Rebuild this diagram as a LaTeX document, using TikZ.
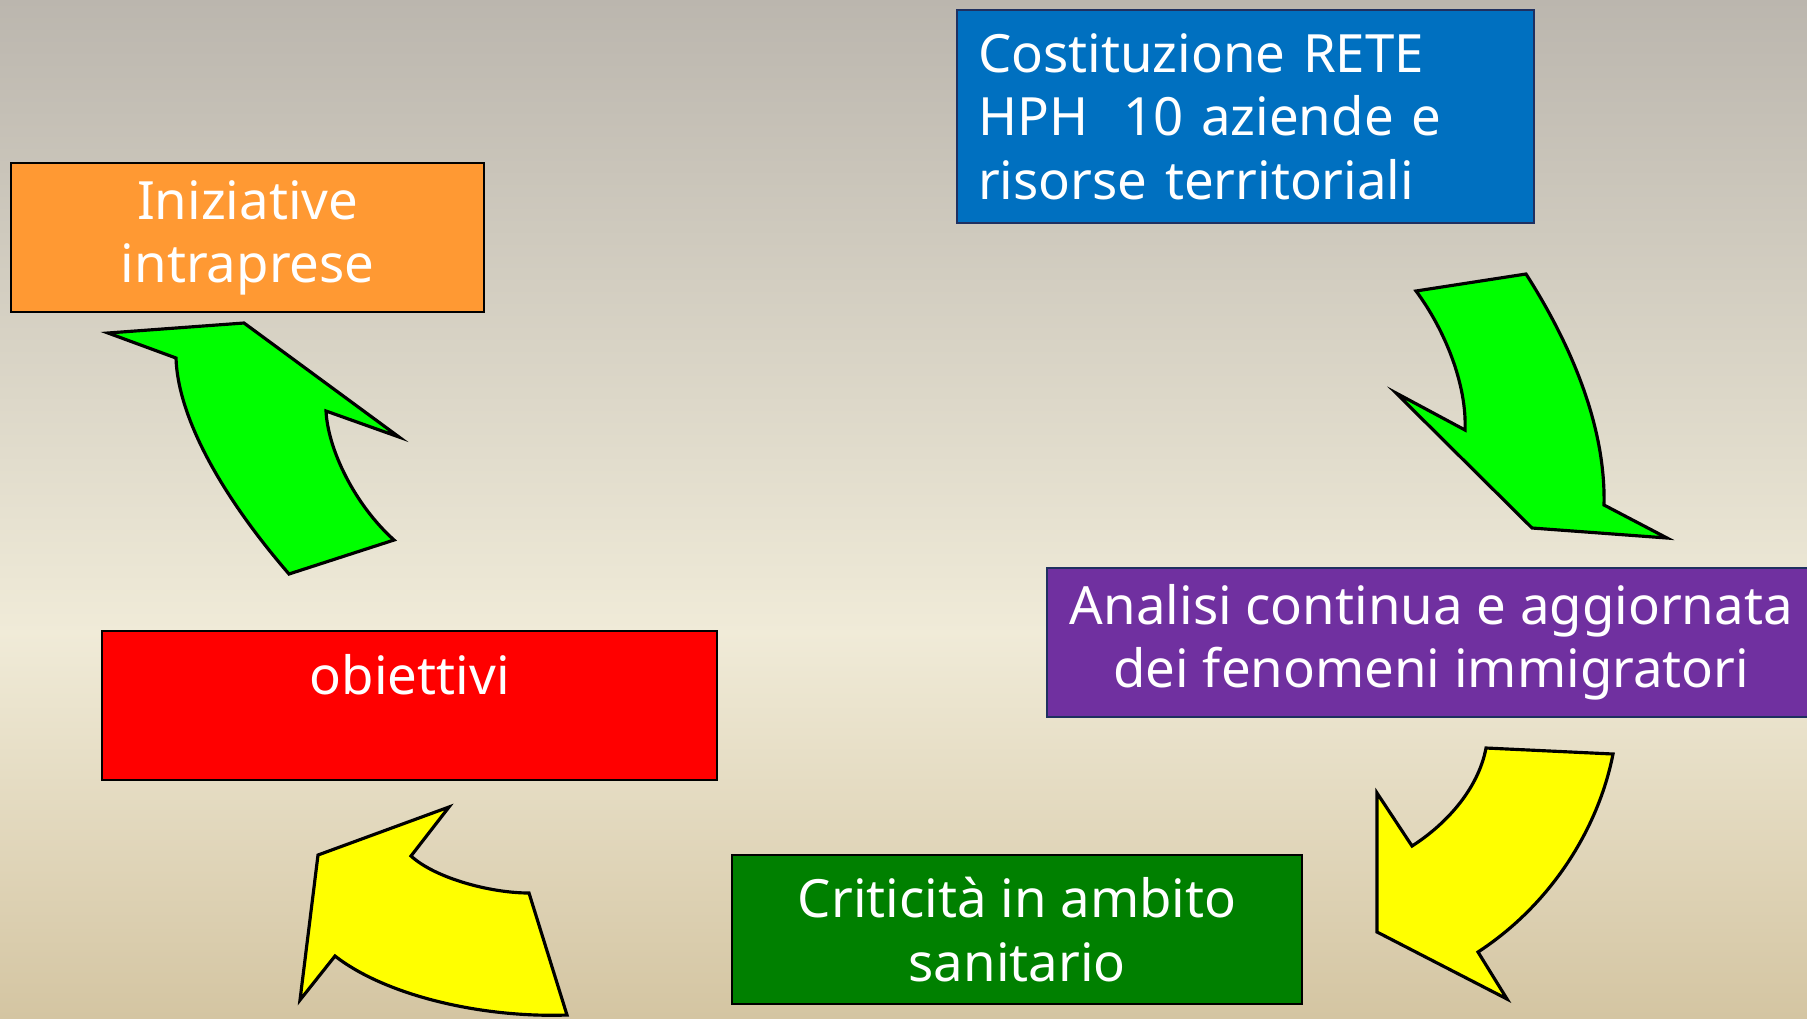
\documentclass[tikz,border=0pt]{standalone}
\usepackage{fontspec}
\setmainfont{Noto Sans}
\usepackage{tikz}
\usetikzlibrary{positioning}
\usepackage{xcolor}

\definecolor{bgtop}{RGB}{187,182,174}
\definecolor{bgmid}{RGB}{240,235,216}
\definecolor{bgbot}{RGB}{212,197,162}
\definecolor{boxblue}{RGB}{0,112,192}
\definecolor{boxnavy}{RGB}{31,48,96}
\definecolor{boxorange}{RGB}{255,153,51}
\definecolor{boxpurple}{RGB}{112,48,160}
\definecolor{boxgreen}{RGB}{0,128,0}
\definecolor{arrowgreen}{RGB}{0,255,0}
\definecolor{arrowyellow}{RGB}{255,255,0}

\pgfdeclareverticalshading{slidebg}{100bp}{color(0bp)=(bgbot); color(25bp)=(bgbot); color(44bp)=(bgmid); color(75bp)=(bgtop); color(100bp)=(bgtop)}

\begin{document}
\begin{tikzpicture}[x=0.01cm,y=-0.01cm]
    \tikzstyle{box}=[rectangle,draw=black,line width=0.6pt,text=white,font=\fontsize{15}{18}\selectfont,align=center,inner sep=0pt,anchor=north west,minimum height=14.9mm]
    \tikzstyle{bent}=[draw=black,line width=0.9pt,line join=miter]

    \useasboundingbox (0,0) rectangle (1807,1018);
    \shade[shading=slidebg] (0,0) rectangle (1807,1018);

    \node[box,fill=boxblue,draw=boxnavy,minimum width=57.7mm,minimum height=21.3mm,text width=53.5mm,align=left] (rete) at (956,9) {Costituzione RETE\\HPH\ \ 10 aziende e\\risorse territoriali};
    \node[box,fill=boxorange,minimum width=47.3mm] (iniziative) at (10,162) {Iniziative\\intraprese};
    \node[box,fill=boxpurple,draw=boxnavy,minimum width=76.8mm] (analisi) at (1046,567) {Analisi continua e aggiornata\\dei fenomeni immigratori};
    \node[box,fill=red,minimum width=61.5mm] (obiettivi) at (101,630) {};
    \node[box,draw=none,anchor=north,minimum height=0pt,below=2.3mm of obiettivi.north] (obtxt) {obiettivi};
    \node[box,fill=boxgreen,minimum width=57.0mm] (criticita) at (731,854) {Criticit\`a in ambito\\sanitario};

    % green arrows
    \path[bent,fill=arrowgreen] (1416,291) -- (1526,274) .. controls (1565,335) and (1606,420) .. (1604,505) -- (1667,538) -- (1532,528) -- (1396,393) -- (1465,430) .. controls (1467,385) and (1445,330) .. (1416,291) -- cycle;
    \path[bent,fill=arrowgreen] (108,333) -- (244,323) -- (399,437) -- (326,411) .. controls (328,450) and (355,505) .. (394,540) -- (289,574) .. controls (225,500) and (178,420) .. (176,358) -- cycle;

    % yellow arrows
    \path[bent,fill=arrowyellow] (1486,748) -- (1613,754) .. controls (1598,830) and (1550,905) .. (1478,952) -- (1507,999) -- (1377,932) -- (1377,793) -- (1412,846) .. controls (1445,825) and (1478,790) .. (1486,748) -- cycle;
    \path[bent,fill=arrowyellow] (449,807) -- (411,856) .. controls (435,878) and (490,893) .. (529,893) -- (567,1015) .. controls (480,1018) and (385,995) .. (335,956) -- (300,1000) -- (318,855) -- cycle;

\end{tikzpicture}
\end{document}
